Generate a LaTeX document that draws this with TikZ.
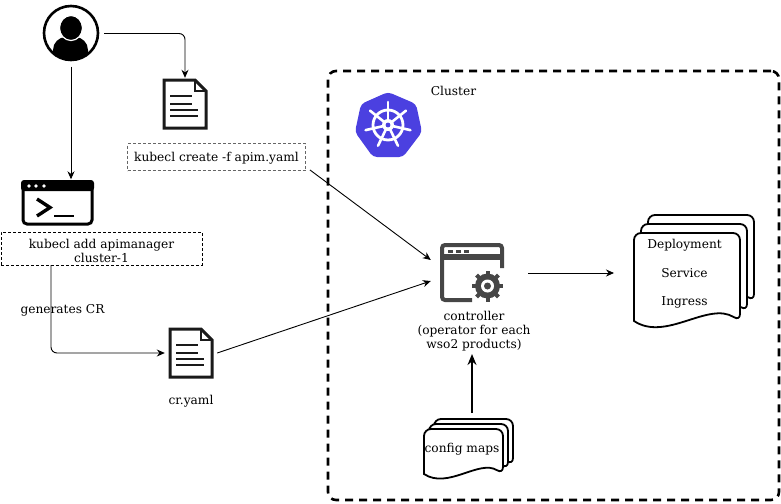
\documentclass[tikz,border=0pt]{standalone}
\usepackage{fontspec}
\setmainfont{DejaVu Serif}
\usetikzlibrary{positioning,arrows.meta}
\definecolor{kubeblue}{HTML}{4B40E0}
\definecolor{icongray}{HTML}{464646}
\definecolor{docblack}{HTML}{1A1A1A}
\tikzset{
    label/.style={font=\fontsize{12.2}{14}\selectfont,text=black,inner sep=0pt,align=center},
    iconbox/.style={inner sep=0pt,minimum width=#1},
    cmdbox/.style={label,draw,dash pattern=on 3pt off 2pt,minimum height=33pt},
    flow/.style={-{Stealth[length=8pt,width=7pt]},line width=0.9pt},
    sheet/.style={draw=black,fill=white,line width=1.8pt},
    docicon/.pic={
        \draw[docblack,line width=3pt,fill=white,line join=miter] (-21,-24) -- (10,-24) -- (21,-13) -- (21,24) -- (-21,24) -- cycle;
        \draw[docblack,line width=2.2pt] (10,-24) -- (10,-13) -- (21,-13);
        \foreach \yy/\xx in {-8/7,0/7,6/13,12/13}
            \draw[docblack,line width=2.6pt] (-15,\yy) -- (\xx,\yy);
    },
}
% one page of the stacked sheets, #1 left, #2 right, #3 top, #4 bottom
\newcommand{\stacksheet}[4]{
    \path[sheet,rounded corners=7pt] (#1,#4) -- (#1,#3) -- (#2,#3) -- (#2,#4)
        [sharp corners] .. controls ({#2-0.3*(#2-#1)},{#4-0.19*(#2-#1)}) and ({#1+0.3*(#2-#1)},{#4+0.2*(#2-#1)}) .. (#1,#4) -- cycle;
}
\begin{document}
\begin{tikzpicture}[x=1pt,y=-1pt]
    \useasboundingbox (0,0) rectangle (781,503);
    % cluster
    \node[draw,line width=2.6pt,rounded corners=8pt,minimum width=451pt,minimum height=429pt,dash pattern=on 8pt off 6pt] (cluster) at (553.5,285.5) {};
    \node[label] (clustertext) at (453.5,90.5) {Cluster};

    % logo
    \fill[kubeblue,rounded corners=4pt] (388,92) -- (416,104) -- (422,132) -- (403,157) -- (373,157) -- (355,132) -- (361,104) -- cycle;
    \draw[white,line width=2.8pt] (388,125) circle (15);
    \foreach \ang in {-90,-38.6,12.9,64.3,115.7,167.1,218.6}
        \draw[white,line width=2.6pt,line cap=round] (388,125) -- ++(\ang:23);
    \fill[white] (388,125) circle (6);
    \fill[kubeblue] (388,125) circle (2.4);

    % user
    \node[iconbox=66pt,minimum height=66pt] (user) at (71,33.5) {};
    \begin{scope}
        \clip (71,33) circle (26.5);
        \fill[black,rounded corners=13pt] (53,70) -- (53,37) -- (88,37) -- (88,70) -- cycle;
    \end{scope}
    \fill[black] (71,28) ellipse (11.5 and 12.5);
    \draw[white,line width=1.2pt] (71,28) ellipse (11.5 and 12.5);
    \fill[black] (71,28) ellipse (10 and 11);
    \draw[black,line width=2.6pt] (71,33) circle (27);

    % terminal
    \node[iconbox=73pt,minimum height=47pt] (term) at (57.5,203) {};
    \draw[black,line width=3pt,rounded corners=4pt,fill=white] (23,182) rectangle (92,224);
    \fill[black,rounded corners=3pt] (21,180) rectangle (94,191);
    \foreach \xx in {29,36,44}
        \fill[white] (\xx,186) circle (1.8);
    \draw[black,line width=3.4pt] (37,199) -- (50,207.5) -- (37,216);
    \draw[black,line width=2.8pt] (54,216) -- (74,216);

    \node[cmdbox,minimum width=201pt] (addbox) at (101.5,248.5) {\rule{0pt}{14pt}kubecl add apimanager\\cluster-1};

    % yaml files
    \node[iconbox=52pt,minimum height=52pt] (docone) at (185,104) {};
    \pic at (docone) {docicon};
    \node[cmdbox,draw=black!60,line width=0.9pt,minimum width=178pt,minimum height=27pt] (createbox) at (216.5,157) {\rule{0pt}{12pt}kubecl create -f apim.yaml};

    \node[iconbox=52pt,minimum height=52pt] (doctwo) at (191,353) {};
    \pic at (doctwo) {docicon};
    \node[label] (crtext) at (191,401.5) {cr.yaml};

    % controller
    \node[iconbox=97pt,minimum height=80pt] (controller) at (479.5,273) {};
    \draw[icongray,line width=4pt,rounded corners=3pt] (472,300) -- (442,300) -- (442,245) -- (502,245) -- (502,268);
    \fill[icongray] (441,254) rectangle (504,260);
    \foreach \xx in {448,456,464}
        \fill[icongray] (\xx,250) rectangle (\xx+5,253);
    \foreach \ang in {0,45,...,315}
        \draw[icongray,line width=4pt] (487.5,286) -- ++(\ang:15.5);
    \fill[icongray] (487.5,286) circle (12.5);
    \fill[white] (487.5,286) circle (6.5);
    \fill[icongray] (487.5,286) circle (3.5);
    \node[label,below=0pt of controller.south,yshift=2pt,xshift=-5.5pt] (controllertext) {controller\\(operator for each\\wso2 products)};

    % resources
    \stacksheet{648}{754}{215}{301}
    \stacksheet{641}{747}{224}{311}
    \stacksheet{634}{740}{233}{321}
    \node[label] (deployment) at (684.5,245) {Deployment};
    \node[label] (service) at (684.5,273.5) {Service};
    \node[label] (ingress) at (684.5,302) {Ingress};
    \coordinate (resources) at (614,273);

    % config maps
    \stacksheet{434}{513}{419}{465}
    \stacksheet{429}{508}{424}{469}
    \stacksheet{424}{503}{429}{474}
    \node[label] (configmaps) at (462,449) {config maps};
    \coordinate (configtop) at (472,413);
    \coordinate (controllerlow) at (472,354);

    % connectors
    \draw[flow] (user) -- (user |- term.north);
    \draw[flow,rounded corners=6pt] (user.east) -| (docone.north);
    \draw[flow,rounded corners=6pt] ([xshift=-50.5pt]addbox.south) |- (doctwo.west);
    \node[label] (crlabel) at (62.5,310) {generates CR};
    \draw[flow] ([shift={(4,-1)}]createbox.south east) -- ([yshift=13pt]controller.west);
    \draw[flow] (doctwo.east) -- ([yshift=-8pt]controller.west);
    \draw[flow] (controller.east) -- (resources);
    \draw[-{Stealth[length=11pt,width=9pt]},line width=1.6pt] (configtop) -- (controllerlow);
\end{tikzpicture}
\end{document}
